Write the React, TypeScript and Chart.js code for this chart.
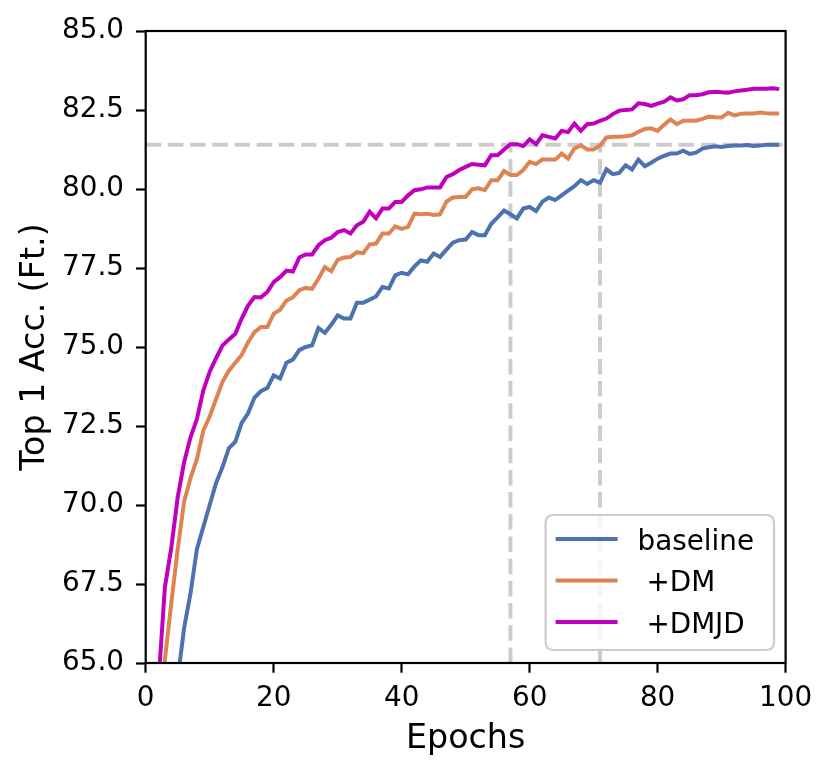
import React, { useEffect, useRef } from "react";
import { Chart, registerables } from "chart.js";

Chart.register(...registerables);

const epochs: number[] = Array.from({ length: 100 }, (_, i) => i);

const baseline: number[] = [
  52, 56, 59, 61, 62.8, 64.5, 66.1, 67.2, 68.6, 69.3,
  70.0, 70.7, 71.2, 71.8, 72.0, 72.6, 72.9, 73.4, 73.6, 73.7,
  74.1, 74.0, 74.5, 74.6, 74.9, 75.0, 75.05, 75.6, 75.45, 75.7,
  76.0, 75.9, 75.9, 76.4, 76.4, 76.5, 76.6, 76.9, 76.85, 77.27,
  77.35, 77.3, 77.55, 77.74, 77.7, 77.96, 77.85, 78.08, 78.3, 78.38,
  78.4, 78.64, 78.54, 78.54, 78.9, 79.1, 79.32, 79.2, 79.07, 79.38,
  79.43, 79.3, 79.6, 79.73, 79.65, 79.8, 79.95, 80.09, 80.28, 80.16,
  80.28, 80.2, 80.62, 80.47, 80.51, 80.75, 80.62, 80.93, 80.72, 80.83,
  80.96, 81.05, 81.12, 81.12, 81.21, 81.11, 81.15, 81.28, 81.32, 81.35,
  81.33, 81.36, 81.38, 81.38, 81.39, 81.36, 81.38, 81.4, 81.4, 81.4,
];

const dm: number[] = [
  50, 57, 62.5, 65.1, 66.9, 68.6, 70.1, 70.85, 71.45, 72.35,
  72.8, 73.35, 73.9, 74.25, 74.5, 74.75, 75.15, 75.47, 75.63, 75.63,
  76.05, 76.18, 76.47, 76.57, 76.8, 76.87, 76.84, 77.16, 77.53, 77.4,
  77.76, 77.83, 77.85, 78.0, 77.97, 78.25, 78.27, 78.59, 78.59, 78.82,
  78.74, 78.8, 79.22, 79.2, 79.22, 79.18, 79.2, 79.6, 79.73, 79.75,
  79.75, 79.99, 80.02, 79.96, 80.28, 80.28, 80.57, 80.44, 80.44, 80.6,
  80.86, 80.79, 80.94, 80.93, 80.93, 81.12, 80.96, 81.28, 81.38, 81.25,
  81.25, 81.38, 81.63, 81.65, 81.65, 81.67, 81.7, 81.81, 81.9, 81.92,
  81.84, 82.03, 82.2, 82.05, 82.16, 82.16, 82.16, 82.22, 82.29, 82.27,
  82.26, 82.41, 82.33, 82.38, 82.39, 82.39, 82.42, 82.4, 82.39, 82.39,
];

const dmjd: number[] = [
  52, 59, 64.4, 67.4, 68.65, 70.24, 71.35, 72.14, 72.72, 73.62,
  74.22, 74.65, 75.05, 75.24, 75.42, 75.9, 76.31, 76.58, 76.57, 76.74,
  77.05, 77.21, 77.42, 77.39, 77.83, 77.93, 77.93, 78.22, 78.38, 78.46,
  78.64, 78.7, 78.59, 78.85, 78.96, 79.28, 79.07, 79.38, 79.38, 79.59,
  79.59, 79.8, 79.96, 79.99, 80.05, 80.05, 80.05, 80.38, 80.47, 80.6,
  80.7, 80.79, 80.77, 80.75, 81.07, 81.07, 81.25, 81.42, 81.42, 81.36,
  81.57, 81.42, 81.7, 81.65, 81.6, 81.84, 81.8, 82.07, 81.84, 82.05,
  82.07, 82.16, 82.23, 82.37, 82.48, 82.5, 82.52, 82.71, 82.69, 82.63,
  82.7, 82.76, 82.9, 82.8, 82.84, 82.97, 82.97, 83.0, 83.06, 83.08,
  83.06, 83.05, 83.09, 83.12, 83.14, 83.17, 83.17, 83.17, 83.19, 83.16,
];

const seriesLabels: string[] = ["baseline", " +DM", " +DMJD"];
const seriesColors: string[] = ["#4C72B0", "#DD8452", "#BF00BF"];

const refAcc = 81.4;
const refEpochDMJD = 57;
const refEpochDM = 71;
const xRange: number[] = [0, 100];
const yRange: number[] = [65, 85];

const FONT = "'DejaVu Sans', sans-serif";

const frameLegendPlugin = {
  id: "frameLegend",
  afterDraw(chart: any) {
    const { ctx, chartArea } = chart;
    const { left, right, top, bottom } = chartArea;
    ctx.save();
    // legend
    const bx0 = right - 240;
    const bx1 = right - 11.6;
    const by0 = bottom - 148;
    const by1 = bottom - 13;
    const r = 8;
    ctx.beginPath();
    ctx.moveTo(bx0 + r, by0);
    ctx.lineTo(bx1 - r, by0);
    ctx.quadraticCurveTo(bx1, by0, bx1, by0 + r);
    ctx.lineTo(bx1, by1 - r);
    ctx.quadraticCurveTo(bx1, by1, bx1 - r, by1);
    ctx.lineTo(bx0 + r, by1);
    ctx.quadraticCurveTo(bx0, by1, bx0, by1 - r);
    ctx.lineTo(bx0, by0 + r);
    ctx.quadraticCurveTo(bx0, by0, bx0 + r, by0);
    ctx.closePath();
    ctx.fillStyle = "rgba(255,255,255,0.8)";
    ctx.fill();
    ctx.strokeStyle = "#cccccc";
    ctx.lineWidth = 2.2;
    ctx.stroke();
    const items = chart.data.datasets.filter((d: any) => d.inLegend);
    ctx.font = `27.8px ${FONT}`;
    ctx.textBaseline = "alphabetic";
    ctx.textAlign = "left";
    items.forEach((d: any, i: number) => {
      const ly = by0 + 24 + i * 41.5;
      ctx.beginPath();
      ctx.strokeStyle = d.borderColor;
      ctx.lineWidth = 4;
      ctx.moveTo(bx0 + 10, ly);
      ctx.lineTo(bx0 + 72, ly);
      ctx.stroke();
      ctx.fillStyle = "#000";
      ctx.fillText(d.label, bx0 + 92, ly + 10.5);
    });
    // frame
    ctx.strokeStyle = "#000";
    ctx.lineWidth = 2.2;
    ctx.strokeRect(left, top, right - left, bottom - top);
    ctx.restore();
  },
};

export default function App() {
  const ref = useRef<HTMLCanvasElement | null>(null);

  useEffect(() => {
    document.body.style.margin = "0";
    if (!ref.current) return;
    const mk = (vals: number[]) => epochs.map((e, i) => ({ x: e, y: vals[i] }));
    const dashStyle = {
      borderColor: "#cccccc",
      borderWidth: 4,
      borderDash: [15.5, 6.7],
      pointRadius: 0,
      fill: false,
      order: 10,
      clip: 0,
      inLegend: false,
    };
    const chart = new Chart(ref.current, {
      type: "line",
      data: {
        datasets: [
          { label: seriesLabels[0], data: mk(baseline), borderColor: seriesColors[0], order: 3 },
          { label: seriesLabels[1], data: mk(dm), borderColor: seriesColors[1], order: 2 },
          { label: seriesLabels[2], data: mk(dmjd), borderColor: seriesColors[2], order: 1 },
        ].map((d) => ({
          ...d,
          borderWidth: 4,
          pointRadius: 0,
          tension: 0,
          fill: false,
          clip: 0,
          inLegend: true,
        })).concat([
          { label: "h", data: [{ x: xRange[0], y: refAcc }, { x: xRange[1], y: refAcc }], ...dashStyle } as any,
          { label: "v1", data: [{ x: refEpochDMJD, y: yRange[0] }, { x: refEpochDMJD, y: refAcc }], ...dashStyle } as any,
          { label: "v2", data: [{ x: refEpochDM, y: yRange[0] }, { x: refEpochDM, y: refAcc }], ...dashStyle } as any,
        ]) as any,
      },
      options: {
        animation: false,
        responsive: true,
        maintainAspectRatio: false,
        layout: { padding: { top: 31, right: 45.4, left: 0, bottom: 0 } },
        plugins: { legend: { display: false }, tooltip: { enabled: false } },
        scales: {
          x: {
            type: "linear",
            min: xRange[0],
            max: xRange[1],
            afterFit: (s: any) => { s.height = 114; },
            grid: { drawOnChartArea: false, drawTicks: true, tickLength: 9.7, tickWidth: 2.2, tickColor: "#000" },
            border: { display: false },
            ticks: { stepSize: 20, color: "#000", font: { family: FONT, size: 27.8 }, padding: 9, maxRotation: 0 },
            title: { display: true, text: "Epochs", color: "#000", font: { family: FONT, size: 33.3 }, padding: { top: 0, bottom: 18 } },
          },
          y: {
            type: "linear",
            min: yRange[0],
            max: yRange[1],
            afterFit: (s: any) => { s.width = 145.7; },
            grid: { drawOnChartArea: false, drawTicks: true, tickLength: 9.7, tickWidth: 2.2, tickColor: "#000" },
            border: { display: false },
            ticks: { stepSize: 2.5, color: "#000", font: { family: FONT, size: 27.8 }, padding: 12, callback: (v: any) => Number(v).toFixed(1) },
            title: { display: true, text: "Top 1 Acc. (Ft.)", color: "#000", font: { family: FONT, size: 33.3 }, padding: { top: 15, bottom: 0 } },
          },
        },
      } as any,
      plugins: [frameLegendPlugin],
    });
    return () => chart.destroy();
  }, []);

  return (
    <div style={{ width: 831, height: 777, position: "relative", background: "#fff" }}>
      <canvas ref={ref} />
    </div>
  );
}
